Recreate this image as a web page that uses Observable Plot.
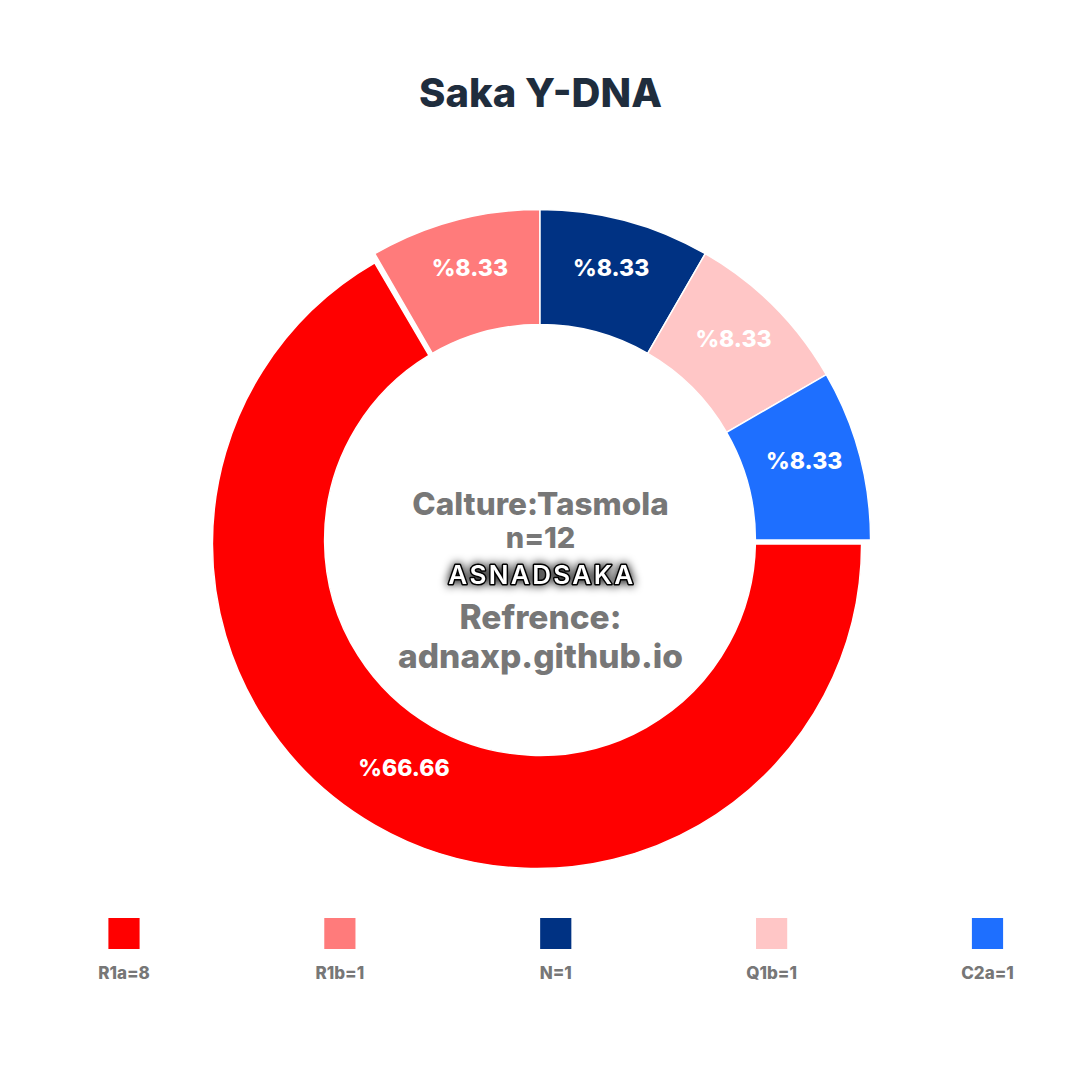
<!DOCTYPE html>
<html>
<head>
<meta charset="utf-8">
<script src="https://cdn.jsdelivr.net/npm/d3@7"></script>
<script src="https://cdn.jsdelivr.net/npm/@observablehq/plot@0.6"></script>
<style>
html,body{margin:0;padding:0;background:#fff}
svg{display:block}
</style>
</head>
<body>
<div id="chart"></div>
<script>
const categories = ["R1a", "R1b", "N", "Q1b", "C2a"];
const counts = [8, 1, 1, 1, 1];
const shareLabels = ["%66.66", "%8.33", "%8.33", "%8.33", "%8.33"];
const colors = ["#ff0000", "#ff7b7b", "#003283", "#ffc6c6", "#1e6fff"];
const titleText = "Saka Y-DNA";
const centerLines = ["Calture:Tasmola", "n=12"];
const watermark = "ASNADSAKA";
const referenceLines = ["Refrence:", "adnaxp.github.io"];

// layout
const size = 1080, font = "Inter, Lato, sans-serif", grey = "#777777";
const ring = {cx: 540, cy: 540, outer: 330.6, inner: 215.4};
const majorOuter = {cx: 537, cy: 544, r: 324.6}; // the major slice's outer edge is drawn off-centre
const majorInset = 0.018;

const slices = d3.pie().sort(null).startAngle(Math.PI / 2).endAngle(Math.PI * 2.5)(counts)
  .map((s, i) => ({...s, name: categories[i], label: shareLabels[i], legend: `${categories[i]}=${counts[i]}`}));
const labelPoint = (s) => {
  const [x, y] = d3.arc().innerRadius(ring.inner).outerRadius(ring.outer).centroid(s);
  return [ring.cx + x, ring.cy + y];
};
const legendX = d3.scalePoint().domain(categories).range([123.5, 987]);

const donut = (index, scales) => {
  const g = d3.create("svg:g");
  const X = scales.x, Y = scales.y;
  slices.forEach((s, i) => {
    let d, transform = `translate(${X(ring.cx)},${Y(ring.cy)})`;
    if (i === 0) {
      const a0 = s.startAngle - Math.PI / 2, a1 = s.endAngle - Math.PI / 2;
      const p = d3.path();
      p.arc(X(majorOuter.cx), Y(majorOuter.cy), majorOuter.r, a0, a1);
      p.arc(X(ring.cx), Y(ring.cy), ring.inner, a1 - majorInset, a0 + majorInset, true);
      p.closePath();
      d = p.toString();
      transform = null;
    } else {
      d = d3.arc().innerRadius(ring.inner).outerRadius(ring.outer)(s);
    }
    g.append("path")
      .attr("d", d)
      .attr("transform", transform)
      .attr("fill", scales.color(s.name))
      .attr("stroke", "#fff")
      .attr("stroke-width", 1.5);
  });
  return g.node();
};

const chart = Plot.plot({
  width: size, height: size,
  margin: 0,
  style: {background: "#fff"},
  x: {domain: [0, size], range: [0, size], axis: null},
  y: {domain: [0, size], range: [0, size], axis: null},
  color: {domain: categories, range: colors, legend: false},
  marks: [
    donut,
    Plot.text(slices, {
      x: d => labelPoint(d)[0],
      y: d => labelPoint(d)[1],
      dy: -8,
      text: "label", fill: "#fff", fontSize: 23, fontWeight: 800, fontFamily: font
    }),
    Plot.text([titleText], {x: [540], y: [94], text: d => d, fill: "#1f2d3d", fontSize: 40, fontWeight: 800, fontFamily: font}),
    Plot.text([centerLines[0]], {x: [540], y: [504], text: d => d, fill: grey, fontSize: 31.5, fontWeight: 800, fontFamily: font}),
    Plot.text([centerLines[1]], {x: [540], y: [538], text: d => d, fill: grey, fontSize: 29, fontWeight: 800, fontFamily: font}),
    Plot.text([watermark], {
      x: [540], y: [575], dx: 1.5, text: d => d, fill: "#fff", stroke: "#000", strokeWidth: 3,
      fontSize: 26, fontWeight: 600, fontFamily: font, imageFilter: "drop-shadow(0 0 5px #000)"
    }),
    Plot.text([referenceLines[0]], {x: [540], y: [618], text: d => d, fill: grey, fontSize: 33.5, fontWeight: 800, fontFamily: font}),
    Plot.text([referenceLines[1]], {x: [540], y: [657], text: d => d, fill: grey, fontSize: 33.5, fontWeight: 800, fontFamily: font}),
    Plot.dot(slices, {x: d => legendX(d.name), y: () => 933, fill: "name", symbol: "square", r: 17.6, stroke: "none"}),
    Plot.text(slices, {x: d => legendX(d.name), y: () => 973, text: "legend", fill: grey, fontSize: 17, fontWeight: 800, fontFamily: font})
  ]
});
d3.select(chart).selectAll("text")
  .filter(function () { return this.textContent === watermark; })
  .style("letter-spacing", "2.4px");
document.getElementById("chart").append(chart);
</script>
</body>
</html>
